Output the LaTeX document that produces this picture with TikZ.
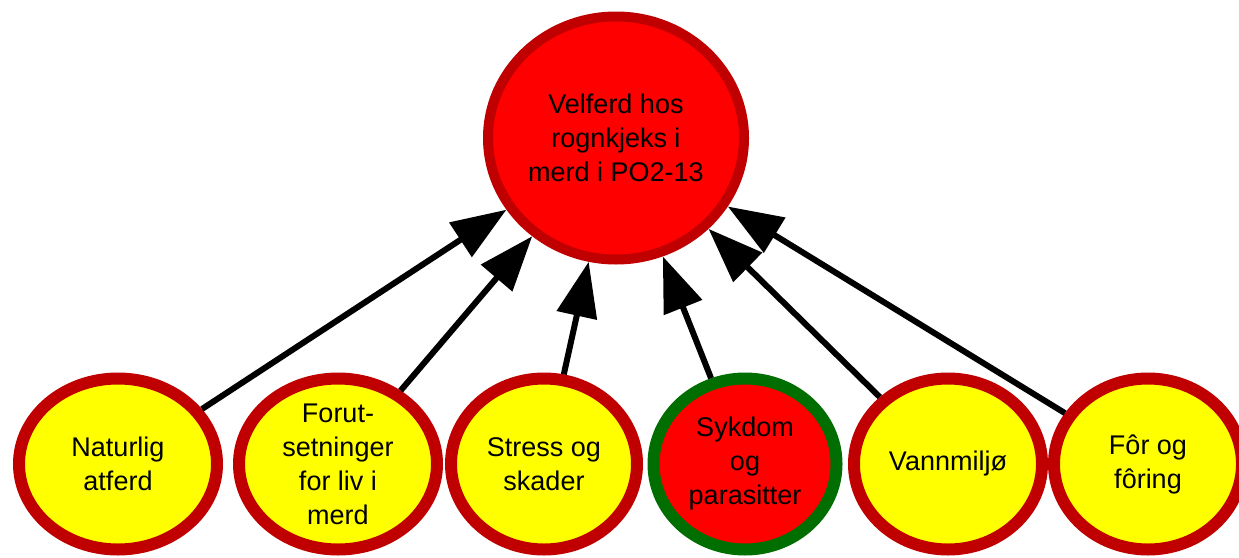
\documentclass[tikz,border=0pt]{standalone}
\usepackage{fontspec}
\setmainfont{Liberation Sans}
\usetikzlibrary{shapes.geometric,arrows.meta}
\definecolor{bordred}{RGB}{192,0,0}
\definecolor{fillred}{RGB}{255,0,0}
\definecolor{fillyel}{RGB}{255,255,0}
\definecolor{bordgreen}{RGB}{0,110,0}
\begin{document}
\begin{tikzpicture}[x=1pt,y=-1pt,
  txt/.style={align=center, font=\fontsize{27pt}{34pt}\selectfont, text=black},
  factor/.style={txt, ellipse, draw=bordred, line width=12pt, fill=fillyel,
    minimum width=190pt, minimum height=171pt, inner sep=-20pt},
  sick/.style={factor, draw=bordgreen, fill=fillred},
  goal/.style={txt, ellipse, draw=bordred, line width=10pt, fill=fillred,
    minimum width=256pt, minimum height=243pt, inner sep=-10pt},
  link/.style={line width=6pt, -{Triangle[length=55pt,width=40pt]}}]
\useasboundingbox (0,0) rectangle (1239,557);
\node[goal] (top) at (616,138) {Velferd hos\\rognkjeks i\\merd i PO2-13};
\node[factor, minimum width=198pt] (b1) at (118,464) {Naturlig\\atferd};
\node[factor, minimum width=198pt] (b2) at (338,464) {Forut-\\setninger\\for liv i\\merd};
\node[factor, minimum width=186pt] (b3) at (544,464) {Stress og\\skader};
\node[sick, minimum width=183pt] (b4) at (745,464) {Sykdom\\og\\parasitter};
\node[factor, minimum width=188pt] (b5) at (948,464) {Vannmiljø};
\node[factor, minimum width=188pt] (b6) at (1148,464) {Fôr og\\fôring};
\foreach \n in {b1,b2,b3,b4,b5,b6}
  \draw[link] (\n) -- (top);
\end{tikzpicture}
\end{document}
